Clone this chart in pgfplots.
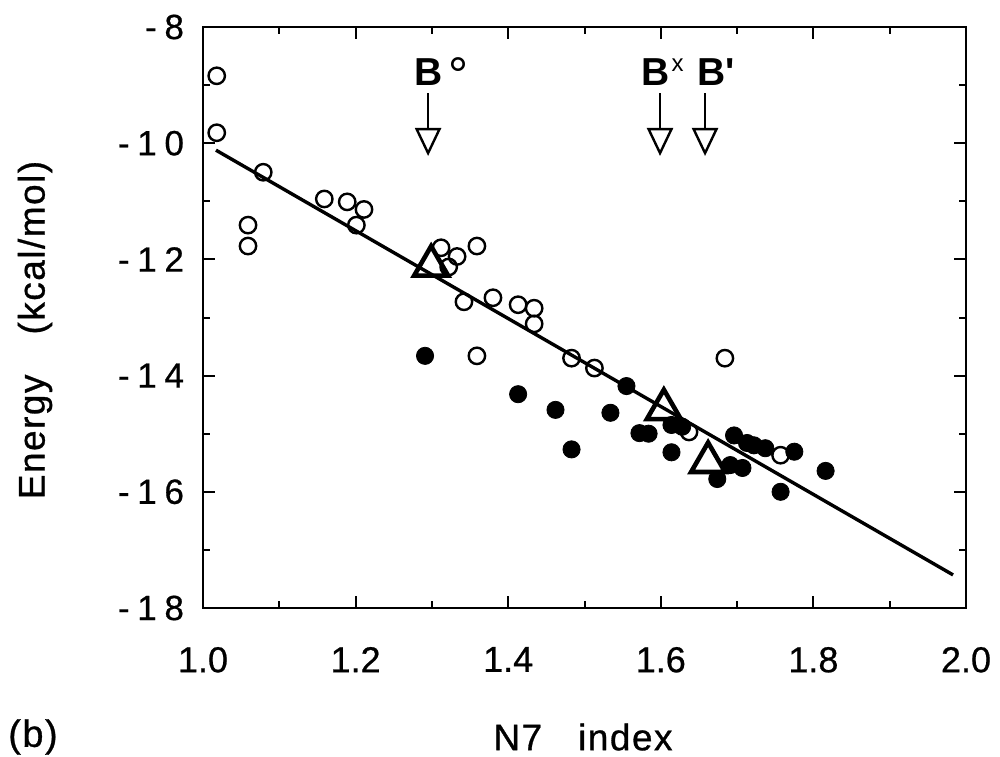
\documentclass[border=0pt]{standalone}
\usepackage{fontspec}
\setmainfont{Liberation Sans}
\newfontfamily\plainsans[FakeBold=0.6]{Liberation Sans}
\newfontfamily\annsans{Liberation Sans}
\newfontfamily\spacedsans[LetterSpace=22, FakeBold=0.6]{Liberation Sans}
\newfontfamily\labelsans[LetterSpace=4, FakeBold=0.8]{Liberation Sans}
\usepackage{pgfplots}
\pgfplotsset{compat=1.18}
\usetikzlibrary{arrows.meta}

% open circles
\pgfplotstableread{
x      y
1.018  -8.84
1.018  -9.82
1.079  -10.50
1.059  -11.41
1.059  -11.77
1.159  -10.96
1.189  -11.01
1.211  -11.14
1.201  -11.41
1.312  -11.80
1.333  -11.95
1.322  -12.13
1.359  -11.77
1.342  -12.73
1.380  -12.66
1.413  -12.78
1.434  -12.84
1.434  -13.11
1.359  -13.66
1.483  -13.70
1.513  -13.87
1.637  -14.97
1.684  -13.70
1.757  -15.37
}\opendata

% filled circles
\pgfplotstableread{
x      y
1.291  -13.66
1.413  -14.32
1.462  -14.59
1.483  -15.27
1.534  -14.64
1.555  -14.18
1.572  -14.99
1.584  -15.00
1.614  -14.85
1.628  -14.88
1.614  -15.32
1.674  -15.78
1.696  -15.03
1.713  -15.16
1.722  -15.20
1.691  -15.54
1.707  -15.59
1.737  -15.25
1.775  -15.31
1.757  -16.00
1.816  -15.64
}\filleddata

% B forms
\pgfplotstableread{
x      y
1.299  -12.11
1.604  -14.58
1.662  -15.49
}\bdata

\newcommand\annB{\fontsize{19.5}{21}\selectfont\annsans\bfseries}

\begin{document}
\begin{tikzpicture}
\begin{axis}[
  scale only axis,
  width=381.5pt, height=290.5pt,
  xmin=1.0, xmax=2.0, ymin=-18, ymax=-8,
  xtick={1.0,1.2,1.4,1.6,1.8,2.0},
  xticklabels={1.0,1.2,1.4,1.6,1.8,2.0},
  ytick={-18,-16,-14,-12,-10,-8},
  yticklabels={-18,-16,-14,-12,-10,-8},
  minor x tick num=1, minor y tick num=1,
  tick align=inside,
  major tick length=6pt, minor tick length=3.5pt,
  every tick/.style={black, line width=1pt},
  axis line style={line width=1.3pt},
  xticklabel style={font=\fontsize{18}{20}\selectfont\plainsans, yshift=-16pt},
  yticklabel style={font=\fontsize{17.5}{19}\selectfont\spacedsans, xshift=-6pt},
]
\addplot[black, line width=1.7pt, no marks] coordinates {(1.017,-10.12) (1.983,-17.43)};
\addplot[only marks, mark=*, mark size=4.3pt, mark options={fill=black, draw=black, line width=0.4pt}] table {\filleddata};
\addplot[only marks, mark=o, mark size=4.1pt, mark options={fill=white, draw=black, line width=1.2pt}] table {\opendata};
\addplot[only marks, mark=triangle, mark size=9.8pt, mark options={fill=white, draw=black, line width=2.3pt}] table {\bdata};

% arrows marking the B forms
\draw[line width=1.2pt, -{Triangle[open, length=14pt, width=13pt]}] (axis cs:1.295,-9.14) -- (axis cs:1.295,-10.22);
\draw[line width=1.2pt, -{Triangle[open, length=14pt, width=13pt]}] (axis cs:1.599,-9.14) -- (axis cs:1.599,-10.22);
\draw[line width=1.2pt, -{Triangle[open, length=14pt, width=13pt]}] (axis cs:1.658,-9.14) -- (axis cs:1.658,-10.22);
\node[anchor=base, inner sep=0pt, font=\annB] at (axis cs:1.295,-9.0) {B\rlap{\hspace{3pt}\raisebox{-3.5pt}{\fontsize{25}{25}\selectfont\mdseries °}}};
\node[anchor=base, inner sep=0pt, font=\annB] at (axis cs:1.593,-9.0) {B\rlap{\hspace{1pt}\raisebox{7pt}{\fontsize{12}{12}\selectfont\mdseries x}}};
\node[anchor=base, inner sep=0pt, font=\annB] at (axis cs:1.666,-9.0) {B\rlap{'}};
\end{axis}
\node[rotate=90, font=\fontsize{18.5}{20}\selectfont\labelsans] at (-84pt,139pt) {Energy\hspace{20pt}(kcal/mol)};
\node[font=\fontsize{18.5}{20}\selectfont\labelsans] at (190pt,-64.5pt) {N7\hspace{18pt}index};
\node[font=\fontsize{19}{20}\selectfont\labelsans] at (-85pt,-64.5pt) {(b)};
\pgfresetboundingbox
\path (-101.5pt,-74pt) rectangle (398.5pt,304pt);
\end{tikzpicture}
\end{document}
